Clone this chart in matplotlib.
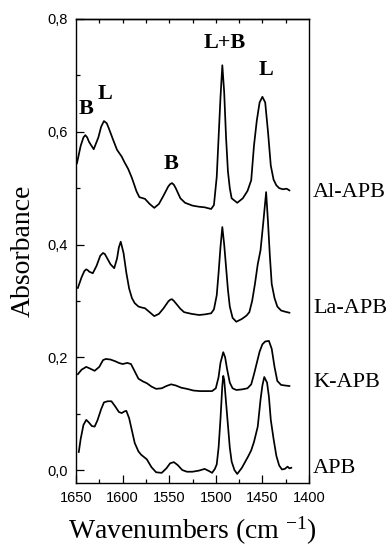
import matplotlib
matplotlib.use("Agg")
import matplotlib.pyplot as plt
from matplotlib.ticker import MultipleLocator, FuncFormatter
import matplotlib.transforms as mtransforms

# ---------------- data ----------------
al_w = [1649, 1645, 1642, 1640, 1638, 1636, 1631, 1626, 1623, 1620, 1617, 1615, 1610, 1606, 1601, 1598,
        1594, 1590, 1585, 1582, 1576, 1571, 1566, 1561, 1556, 1551, 1549, 1547, 1545, 1543,
        1538, 1533, 1525, 1518, 1512, 1505, 1502, 1499, 1497, 1495, 1493, 1491,
        1489, 1487, 1485, 1483, 1477, 1471, 1466, 1462, 1459, 1456, 1453, 1450,
        1447, 1444, 1441, 1438, 1435, 1432, 1428, 1424, 1421]
al_a = [0.544, 0.575, 0.590, 0.594, 0.590, 0.582, 0.569, 0.590, 0.609, 0.619, 0.615, 0.607, 0.585, 0.568, 0.556, 0.546,
        0.534, 0.518, 0.494, 0.484, 0.481, 0.472, 0.465, 0.472, 0.487, 0.503, 0.507, 0.509, 0.506, 0.500,
        0.482, 0.474, 0.469, 0.467, 0.466, 0.463, 0.470, 0.520, 0.590, 0.660, 0.718, 0.670,
        0.590, 0.530, 0.500, 0.482, 0.474, 0.482, 0.495, 0.514, 0.576, 0.620, 0.652, 0.662,
        0.652, 0.600, 0.540, 0.515, 0.505, 0.500, 0.498, 0.499, 0.496]

la_w = [1648, 1644, 1641, 1639, 1637, 1636, 1632, 1628, 1624, 1621, 1619, 1617, 1613, 1609, 1606,
        1604, 1602, 1599, 1596, 1593, 1590, 1587, 1583, 1579, 1576, 1571, 1566,
        1561, 1556, 1551, 1549, 1547, 1545, 1543, 1538, 1534, 1526, 1518, 1512, 1505, 1502,
        1499, 1497, 1495, 1493, 1491, 1489, 1487, 1485, 1482, 1478, 1472, 1467,
        1464, 1461, 1458, 1455, 1452, 1449, 1446, 1444, 1442, 1440, 1437, 1434,
        1430, 1426, 1421]
la_a = [0.323, 0.342, 0.353, 0.356, 0.354, 0.352, 0.349, 0.362, 0.380, 0.385, 0.383, 0.377, 0.365, 0.358, 0.375,
        0.395, 0.405, 0.385, 0.350, 0.322, 0.305, 0.296, 0.290, 0.288, 0.287, 0.280, 0.273,
        0.277, 0.287, 0.299, 0.302, 0.303, 0.300, 0.296, 0.286, 0.280, 0.277, 0.275, 0.276, 0.278, 0.285,
        0.310, 0.350, 0.395, 0.431, 0.400, 0.360, 0.320, 0.290, 0.270, 0.263, 0.268, 0.274,
        0.280, 0.300, 0.330, 0.365, 0.390, 0.440, 0.493, 0.440, 0.380, 0.330, 0.305, 0.290,
        0.283, 0.281, 0.279]

k_w = [1648, 1644, 1639, 1635, 1630, 1625, 1621, 1618, 1613, 1608, 1604, 1600,
       1595, 1591, 1587, 1583, 1578, 1574, 1569, 1564, 1558, 1553, 1548, 1543,
       1537, 1531, 1524, 1517, 1510, 1504, 1500, 1497, 1495, 1492, 1490, 1488,
       1485, 1482, 1478, 1472, 1466, 1462, 1459, 1456, 1453, 1450, 1447, 1443,
       1440, 1437, 1434, 1430, 1426, 1421]
k_a = [0.170, 0.178, 0.183, 0.180, 0.176, 0.183, 0.195, 0.197, 0.196, 0.193, 0.190, 0.188,
       0.190, 0.188, 0.175, 0.162, 0.157, 0.154, 0.148, 0.144, 0.145, 0.149, 0.152, 0.150,
       0.146, 0.144, 0.141, 0.140, 0.140, 0.140, 0.145, 0.165, 0.190, 0.209, 0.200, 0.180,
       0.155, 0.145, 0.142, 0.143, 0.145, 0.152, 0.170, 0.190, 0.210, 0.223, 0.228, 0.229,
       0.215, 0.183, 0.158, 0.151, 0.150, 0.149]

apb_w = [1647, 1645, 1642, 1639, 1636, 1633, 1630, 1627, 1623, 1620, 1616, 1612,
         1608, 1604, 1601, 1598, 1596, 1593, 1590, 1587, 1583, 1580, 1574, 1569,
         1564, 1558, 1553, 1549, 1545, 1541, 1536, 1531, 1525, 1518, 1512, 1507,
         1504, 1501, 1499, 1497, 1495, 1493, 1492, 1491, 1489, 1487, 1485, 1483,
         1480, 1477, 1472, 1468, 1465, 1462, 1459, 1455, 1452, 1450, 1448, 1445,
         1443, 1441, 1438, 1435, 1432, 1429, 1426, 1423, 1421, 1419]
apb_a = [0.032, 0.055, 0.080, 0.089, 0.084, 0.078, 0.077, 0.088, 0.108, 0.120, 0.122, 0.122,
         0.113, 0.103, 0.101, 0.104, 0.105, 0.092, 0.070, 0.048, 0.033, 0.027, 0.019, 0.005,
         -0.004, -0.005, 0.003, 0.012, 0.014, 0.009, 0.000, -0.003, -0.003, -0.001, 0.002, -0.002,
         -0.005, 0.002, 0.010, 0.040, 0.090, 0.150, 0.167, 0.160, 0.120, 0.080, 0.040, 0.015,
         0.000, -0.007, 0.004, 0.016, 0.025, 0.035, 0.050, 0.077, 0.125, 0.150, 0.165, 0.155,
         0.130, 0.089, 0.055, 0.025, 0.008, 0.001, 0.002, 0.006, 0.003, 0.004]

series = [(al_w, al_a, "Al-APB", 0.493),
          (la_w, la_a, "La-APB", 0.287),
          (k_w, k_a, "K-APB", 0.156),
          (apb_w, apb_a, "APB", 0.0035)]

peak_labels = ["B", "L", "B", "L+B", "L"]
peak_pos_w = [1639.3, 1618.5, 1548.5, 1490.8, 1446]
peak_pos_a = [0.640, 0.667, 0.543, 0.757, 0.710]

xticks_major = [1650, 1600, 1550, 1500, 1450, 1400]
yticks_major = [0.0, 0.2, 0.4, 0.6, 0.8]

# ---------------- figure ----------------
serif = ["Liberation Serif", "DejaVu Serif"]
sans = ["Liberation Sans", "DejaVu Sans"]
plt.rcParams["mathtext.fontset"] = "custom"
plt.rcParams["mathtext.rm"] = "Liberation Serif"
plt.rcParams["mathtext.it"] = "Liberation Serif:italic"

fig = plt.figure(figsize=(3.89, 5.51), dpi=100)
ax = fig.add_axes([76 / 389, 1 - 483 / 551, 233 / 389, (483 - 19) / 551])

for w, a, name, ly in series:
    ax.plot(w, a, color="black", lw=1.25, solid_joinstyle="round")

ax.set_xlim(1650, 1400)
ax.set_ylim(-0.023, 0.8)

ax.set_xticks(xticks_major)
ax.xaxis.set_minor_locator(MultipleLocator(25))
ax.set_yticks(yticks_major)
ax.yaxis.set_minor_locator(MultipleLocator(0.1))
ax.yaxis.set_major_formatter(FuncFormatter(lambda v, p: f"{v:.1f}".replace(".", ",")))

ax.tick_params(axis="both", which="both", direction="in", top=False, right=False)
ax.tick_params(axis="x", which="major", length=6, width=0.9, pad=6)
ax.tick_params(axis="x", which="minor", length=3, width=0.9)
ax.tick_params(axis="y", which="major", length=6, width=0.9, pad=6)
ax.tick_params(axis="y", which="minor", length=3, width=0.9)
for lab in ax.get_xticklabels() + ax.get_yticklabels():
    lab.set_fontfamily(sans)
    lab.set_fontsize(10.5)

sec = ax.secondary_xaxis("top")
sec.set_xticks(list(range(1625, 1400, -25)))
sec.tick_params(direction="in", length=3, width=0.9, labeltop=False)

for sp in ax.spines.values():
    sp.set_linewidth(1.0)
sec.spines["top"].set_linewidth(1.0)

trans = mtransforms.blended_transform_factory(ax.transAxes, ax.transData)
for w, a, name, ly in series:
    ax.text(1.017, ly, name, transform=trans, ha="left", va="center",
            fontsize=16, family=serif, clip_on=False)

for t, px, py in zip(peak_labels, peak_pos_w, peak_pos_a):
    ax.text(px, py, t, ha="center", va="center", fontsize=16,
            fontweight="bold", family=serif)

ax.set_ylabel("Absorbance", fontsize=20, family=serif, labelpad=8)
ax.set_xlabel("Wavenumbers (cm $^{-1}$)", fontsize=20, family=serif, labelpad=7)

fig.savefig("out.png", dpi=100)
